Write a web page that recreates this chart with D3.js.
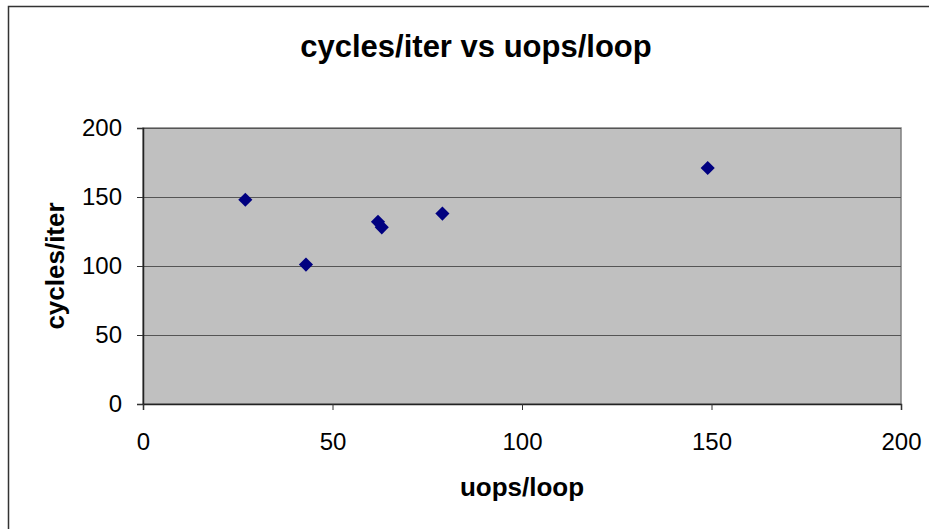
<!DOCTYPE html>
<html>
<head>
<meta charset="utf-8">
<script src="https://cdn.jsdelivr.net/npm/d3@7"></script>
<style>
  body { margin: 0; background: #fff; }
  text { font-family: "Liberation Sans", Arial, sans-serif; }
</style>
</head>
<body>
<script>
const uopsPerLoop = [27, 43, 62, 63, 79, 149];
const cyclesPerIter = [148, 101, 132, 128, 138, 171];
const xTicks = [0, 50, 100, 150, 200];
const yTicks = [0, 50, 100, 150, 200];

const width = 929;
const height = 529;
const plot = { left: 143, top: 128, right: 901, bottom: 404 };

const svg = d3.select('body')
  .append('svg')
  .attr('width', width)
  .attr('height', height);

// chart border (runs off the right and bottom edges)
svg.append('rect')
  .attr('x', 8.5)
  .attr('y', 6.5)
  .attr('width', 940)
  .attr('height', 540)
  .attr('fill', '#fff')
  .attr('stroke', '#333')
  .attr('stroke-width', 1.5);

const x = d3.scaleLinear().domain([0, 200]).range([plot.left, plot.right]);
const y = d3.scaleLinear().domain([0, 200]).range([plot.bottom, plot.top]);

// plot area
svg.append('rect')
  .attr('x', plot.left)
  .attr('y', plot.top)
  .attr('width', plot.right - plot.left)
  .attr('height', plot.bottom - plot.top)
  .attr('fill', '#c0c0c0')
  .attr('stroke', '#808080')
  .attr('stroke-width', 1.5);

// gridlines
svg.append('g')
  .selectAll('line')
  .data(yTicks.filter(d => d > 0))
  .join('line')
  .attr('x1', plot.left)
  .attr('x2', plot.right)
  .attr('y1', d => y(d) + 0.5)
  .attr('y2', d => y(d) + 0.5)
  .attr('stroke', '#555')
  .attr('stroke-width', 1.2);

const tickFont = g => g.selectAll('.tick text')
  .style('font-family', '"Liberation Sans", Arial, sans-serif')
  .style('font-size', '24px')
  .attr('fill', '#000');

// y axis
svg.append('g')
  .attr('transform', `translate(${plot.left},0)`)
  .call(d3.axisLeft(y).tickValues(yTicks).tickSize(6).tickPadding(15))
  .call(g => g.select('.domain').attr('stroke', '#222').attr('stroke-width', 1.5))
  .call(g => g.selectAll('.tick line').attr('stroke', '#333'))
  .call(tickFont);

// x axis
svg.append('g')
  .attr('transform', `translate(0,${plot.bottom})`)
  .call(d3.axisBottom(x).tickValues(xTicks).tickSize(6).tickPadding(23))
  .call(g => g.select('.domain').attr('stroke', '#222').attr('stroke-width', 1.5))
  .call(g => g.selectAll('.tick line').attr('stroke', '#333'))
  .call(tickFont);

// points
svg.append('g')
  .selectAll('path')
  .data(uopsPerLoop.map((d, i) => [d, cyclesPerIter[i]]))
  .join('path')
  .attr('transform', d => `translate(${x(d[0])},${y(d[1])}) rotate(45)`)
  .attr('d', d3.symbol(d3.symbolSquare, 100))
  .attr('fill', '#000080');

// title
svg.append('text')
  .attr('x', 476)
  .attr('y', 57)
  .attr('text-anchor', 'middle')
  .style('font-size', '31px')
  .style('font-weight', 'bold')
  .text('cycles/iter vs uops/loop');

// axis titles
svg.append('text')
  .attr('x', plot.left + (plot.right - plot.left) / 2)
  .attr('y', 496)
  .attr('text-anchor', 'middle')
  .style('font-size', '26px')
  .style('font-weight', 'bold')
  .text('uops/loop');

svg.append('text')
  .attr('transform', `translate(64,${(plot.top + plot.bottom) / 2}) rotate(-90)`)
  .attr('text-anchor', 'middle')
  .style('font-size', '26px')
  .style('font-weight', 'bold')
  .text('cycles/iter');
</script>
</body>
</html>
